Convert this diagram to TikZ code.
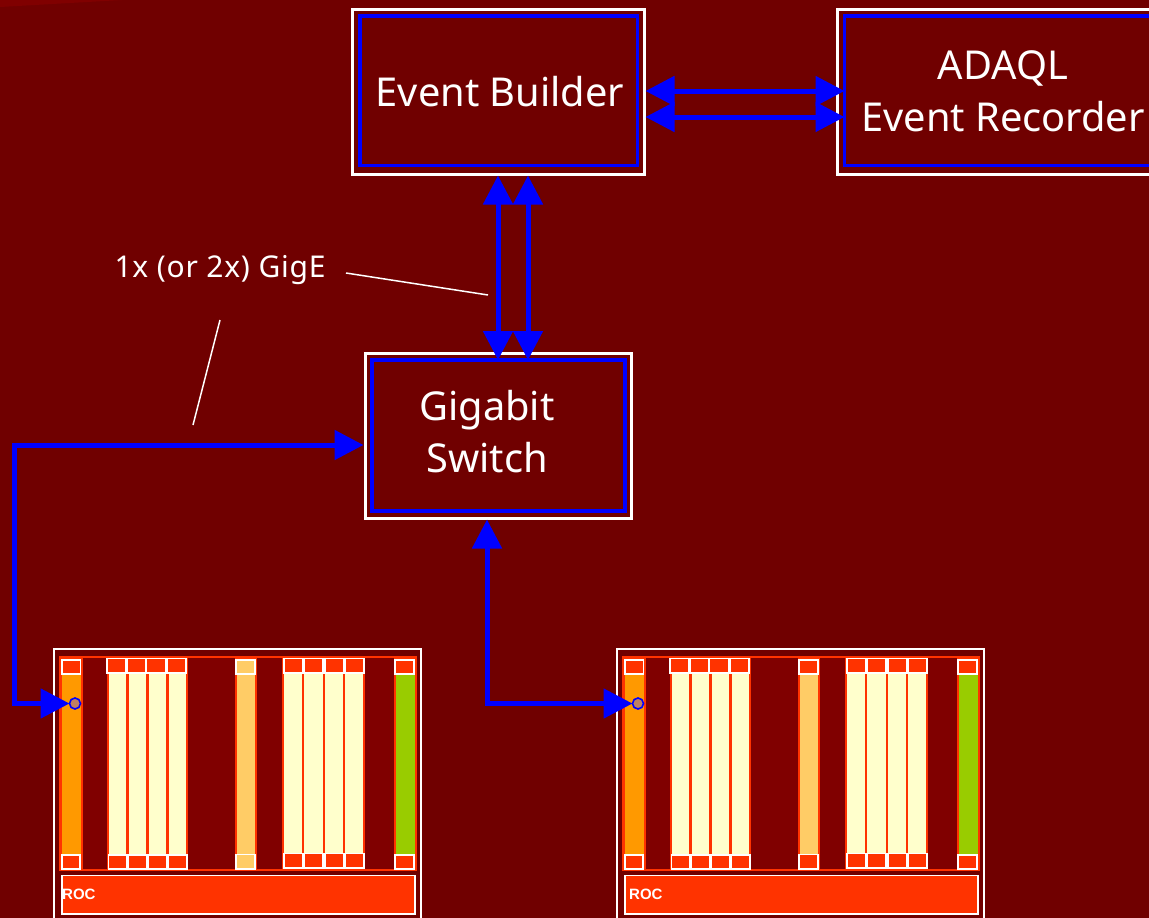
\documentclass[tikz,border=0pt]{standalone}
\usepackage{fontspec}
\setmainfont{Noto Sans}
\newfontfamily\rocfont{Liberation Sans}
\usetikzlibrary{arrows.meta,fit}
\definecolor{bgred}{HTML}{700000}
\definecolor{wedge}{HTML}{800000}
\definecolor{rackdark}{HTML}{800000}
\definecolor{rocred}{HTML}{FF3300}
\definecolor{cardorange}{HTML}{FF9900}
\definecolor{cardcream}{HTML}{FFFFCC}
\definecolor{cardlight}{HTML}{FFCC66}
\definecolor{cardgreen}{HTML}{99CC00}
\definecolor{linkblue}{HTML}{0000FF}
\definecolor{portfill}{HTML}{C08060}
\tikzset{
  whitebox/.style={draw=white,line width=3pt,inner sep=0pt,outer sep=1.5pt},
  bluebox/.style={draw=linkblue,line width=3.2pt,inner sep=0pt,outer sep=0pt},
  bigtext/.style={text=white,font=\fontsize{39.8}{52}\selectfont,align=center,inner sep=0pt},
  smalltext/.style={text=white,font=\fontsize{30}{32}\selectfont\addfontfeatures{LetterSpace=2.5},inner sep=0pt},
  roctext/.style={text=white,font=\rocfont\fontsize{15}{16}\selectfont\bfseries,inner sep=0pt,anchor=west},
  bilink/.style={draw=linkblue,line width=5pt,{Triangle[length=29pt,width=29pt]}-{Triangle[length=29pt,width=29pt]}},
  leader/.style={draw=white,line width=1.5pt},
  rackouter/.style={draw=white,line width=2pt},
  rackinner/.style={draw=rocred,fill=rackdark,line width=2pt},
  card/.style={draw=rocred,line width=2pt},
  tab/.style={draw=white,line width=1.6pt,fill=rocred},
  port/.style={circle,draw=linkblue,fill=portfill,line width=1.6pt,minimum size=11pt,inner sep=0pt,outer sep=0pt},
}
\newcommand{\drawrack}[4]{%
  \begin{scope}[xshift=#1pt]
    \draw[rackouter] (54,649) rectangle (421,930);
    \draw[rackinner] (60,657) rectangle (416,870);
    \filldraw[card,fill=cardorange] (61,658) rectangle (82,870);
    \foreach \a/\b in {108/127,127.5/147,147.5/167,167.5/187,283/303,303/323.5,323.5/344,344/364}
      \filldraw[card,fill=cardcream] (\a,658) rectangle (\b,869);
    \filldraw[card,fill=cardlight] (235.5,658) rectangle (255.5,870);
    \filldraw[card,fill=cardgreen] (394.5,658) rectangle (415.5,870);
    \foreach \a/\b in {62/80.5,395/414}
      \filldraw[tab] (\a,660) rectangle (\b,674);
    \foreach \a/\b in {62/80,395/414}
      \filldraw[tab] (\a,855) rectangle (\b,869);
    \foreach \a/\b in {107/126,127/146,146.5/166,167/186,284/303,304/323,325/344,345/364}
      \filldraw[tab] (\a,658.5) rectangle (\b,673);
    \foreach \a/\b in {108.5/127,128/147,148/167,168/187}
      \filldraw[tab] (\a,855) rectangle (\b,869);
    \foreach \a/\b in {284/303,304/323,325/344,345/364}
      \filldraw[tab] (\a,853.5) rectangle (\b,868);
    \filldraw[tab,fill=#2] (236,660) rectangle (255,674);
    \filldraw[tab,fill=#2] (236,854.5) rectangle (255,869);
    \filldraw[tab] (62,875.5) rectangle (415,914);
    \node[roctext] (roc#1) at (#3,894.5) {ROC};
    \node[port] (#4) at (75,703.5) {};
  \end{scope}}
\begin{document}
\begin{tikzpicture}[x=1pt,y=-1pt]
  \useasboundingbox (0,0) rectangle (1149,918);
  \clip (0,0) rectangle (1149,918);
  \fill[bgred] (0,0) rectangle (1149,918);
  \fill[wedge] (0,0) -- (122,0) -- (0,7) -- cycle;

  % boxes
  \node[whitebox,fit={(352,9)(644,174)}] (ebo) {};
  \node[bluebox,fit={(360,16)(637.5,165.5)}] (ebi) {};
  \node[whitebox,fit={(837,9)(1170,174)}] (aro) {};
  \node[bluebox,fit={(844.5,16)(1170,165.5)}] (ari) {};
  \node[whitebox,fit={(365,353)(631,518)}] (swo) {};
  \node[bluebox,fit={(372,360)(625,511)}] (swi) {};
  \node[bigtext] (ebt) at (500,92) {Event Builder};
  \node[bigtext] (art) at (1003,91) {ADAQL\\Event Recorder};
  \node[bigtext] (swt) at (487,432) {Gigabit\\Switch};
  \node[smalltext] (gig) at (220,270) {1x (or 2x) GigE};

  % racks
  \drawrack{0}{cardlight}{62}{portA}
  \drawrack{563}{rocred}{66}{portB}

  % links
  \draw[bilink] (ebo.east |- 0,91) -- (ari.west |- 0,91);
  \draw[bilink] (ebo.east |- 0,117) -- (ari.west |- 0,117);
  \draw[bilink] (ebo.south -| 498,0) -- (swi.north -| 498,0);
  \draw[bilink] (ebo.south -| 528,0) -- (swi.north -| 528,0);
  \draw[bilink] (swo.west |- 0,445) -- (14,445) -- (14,703.5) -- (portA.west);
  \draw[bilink] (swo.south -| 487,0) -- (487,703.5) -- (portB.west);

  % leaders
  \coordinate (la) at (346,273);
  \coordinate (lb) at (488,295);
  \coordinate (lc) at (220,320);
  \coordinate (ld) at (193,425);
  \draw[leader] (la) -- (lb);
  \draw[leader] (lc) -- (ld);
\end{tikzpicture}
\end{document}
